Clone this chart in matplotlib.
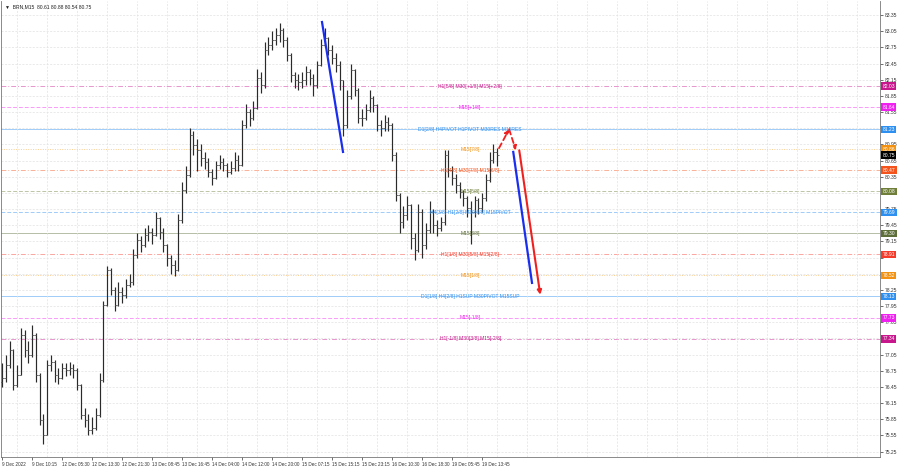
import numpy as np
import matplotlib.pyplot as plt
import matplotlib.transforms as mtransforms

plt.rcParams['font.family'] = ['Liberation Sans', 'DejaVu Sans']

# hourly-ish bars (last bar = title OHLC)
closes = [76.62, 76.86, 77.13, 76.48, 76.67, 77.41, 77.13, 77.04, 77.41, 76.67,
          75.84, 75.56, 76.86, 76.91, 76.67, 76.62, 76.80, 76.77, 76.80, 76.77,
          76.48, 75.93, 75.84, 75.65, 75.69, 75.93, 76.58, 77.97, 78.62, 78.25,
          77.97, 78.21, 78.16, 78.34, 78.40, 78.90, 79.17, 79.08, 79.27, 79.32,
          79.27, 79.58, 79.32, 79.08, 78.84, 78.71, 78.62, 79.54, 80.10, 80.38,
          81.12, 80.94, 80.85, 80.70, 80.63, 80.44, 80.33, 80.57, 80.63, 80.57,
          80.44, 80.51, 80.66, 80.57, 81.31, 81.55, 81.44, 81.62, 82.18, 82.05,
          82.70, 82.79, 82.89, 82.98, 83.07, 82.89, 82.61, 82.24, 82.14, 82.11,
          82.14, 82.29, 82.18, 82.05, 82.42, 82.79, 82.92, 82.70, 82.55, 82.42,
          82.14, 81.31, 81.85, 82.33, 81.96, 81.44, 81.44, 81.59, 81.81, 81.68,
          81.31, 81.25, 81.36, 81.31, 80.75, 80.01, 79.51, 79.64, 79.82, 79.21,
          78.99, 79.69, 79.08, 79.36, 79.69, 79.45, 79.40, 79.51, 80.75, 80.47,
          80.33, 80.19, 80.06, 79.95, 79.77, 79.69, 79.91, 79.77, 79.95, 80.29,
          80.66, 80.80, 80.75]
highs = [76.90, 77.05, 77.30, 77.15, 76.85, 77.55, 77.50, 77.30, 77.60, 77.45,
         76.70, 75.95, 76.95, 77.05, 76.95, 76.80, 76.90, 76.90, 76.92, 76.88,
         76.80, 76.50, 76.05, 75.95, 75.90, 76.05, 76.70, 78.05, 78.70, 78.65,
         78.30, 78.40, 78.30, 78.45, 78.55, 79.00, 79.30, 79.25, 79.40, 79.45,
         79.40, 79.70, 79.60, 79.40, 79.10, 78.90, 78.80, 79.65, 80.25, 80.55,
         81.25, 81.20, 81.05, 80.95, 80.80, 80.70, 80.50, 80.65, 80.75, 80.70,
         80.60, 80.65, 80.80, 80.75, 81.40, 81.70, 81.60, 81.75, 82.35, 82.30,
         82.85, 82.95, 83.05, 83.10, 83.20, 83.10, 82.95, 82.65, 82.30, 82.25,
         82.30, 82.40, 82.35, 82.25, 82.50, 82.90, 83.10, 82.95, 82.80, 82.65,
         82.50, 82.15, 81.95, 82.45, 82.35, 82.00, 81.60, 81.70, 81.95, 81.85,
         81.70, 81.40, 81.50, 81.45, 81.35, 80.80, 80.05, 79.80, 80.00, 79.85,
         79.30, 79.85, 79.75, 79.50, 79.90, 79.75, 79.55, 79.60, 80.85, 80.85,
         80.55, 80.40, 80.25, 80.10, 80.00, 79.90, 80.00, 79.95, 80.05, 80.40,
         80.80, 80.95, 80.88]
lows = [76.45, 76.55, 76.80, 76.40, 76.45, 76.70, 77.00, 76.90, 77.00, 76.55,
        75.75, 75.40, 75.60, 76.75, 76.55, 76.50, 76.60, 76.65, 76.68, 76.62,
        76.40, 75.85, 75.70, 75.55, 75.58, 75.65, 75.90, 76.55, 77.95, 78.15,
        77.85, 77.95, 78.00, 78.10, 78.30, 78.35, 78.85, 78.95, 79.05, 79.15,
        79.10, 79.25, 79.20, 78.95, 78.70, 78.55, 78.50, 78.60, 79.50, 80.05,
        80.35, 80.75, 80.45, 80.55, 80.50, 80.35, 80.20, 80.30, 80.50, 80.45,
        80.35, 80.40, 80.45, 80.45, 80.55, 81.25, 81.30, 81.40, 81.60, 81.90,
        82.00, 82.60, 82.70, 82.80, 82.85, 82.75, 82.50, 82.10, 82.00, 81.95,
        82.00, 82.05, 82.05, 81.85, 82.00, 82.40, 82.75, 82.60, 82.45, 82.30,
        81.95, 81.10, 81.25, 81.80, 81.85, 81.35, 81.30, 81.40, 81.55, 81.55,
        81.20, 81.10, 81.20, 81.20, 80.65, 79.90, 79.30, 79.40, 79.55, 79.00,
        78.80, 78.95, 78.85, 79.00, 79.30, 79.30, 79.25, 79.35, 79.45, 80.35,
        80.20, 80.05, 79.95, 79.80, 79.60, 79.10, 79.60, 79.65, 79.70, 79.90,
        80.25, 80.60, 80.54]
first_open = 76.55

# murrey-style levels: price, label, text/box colour, line style
level_prices = [82.03, 81.64, 81.23, 80.86, 80.47, 80.08, 79.69, 79.30, 78.91, 78.52, 78.13, 77.73, 77.34]
level_labels = ["H1[5/8] M30[+1/8] M15[+2/8]", "M15[+1/8]",
                "D1[2/8] H4PIVOT H1PIVOT M30RES M15RES", "M15[7/8]",
                "H1[4/8] M30[7/8] M15[6/8]", "M15[5/8]",
                "H4[3/8] H1[2/8] M30[6/8] M15PIVOT", "M15[3/8]",
                "H1[1/8] M30[5/8] M15[2/8]", "M15[1/8]",
                "D1[1/8] H4[2/8] H1SUP M30PIVOT M15SUP", "M15[-1/8]",
                "H1[-1/8] M30[3/8] M15[-2/8]"]
level_colors = ["#c8178c", "#f020f0", "#2d8ff0", "#f39212", "#f5531c", "#6f7f3a", "#2d8ff0",
                "#5f6f3a", "#f53a2a", "#f39212", "#2d8ff0", "#f020f0", "#c8178c"]
level_styles = [(0, (5, 2, 1, 2)), (0, (4, 2)), "-", (0, (1, 1.5)), (0, (5, 2, 1, 2)), (0, (4, 2)),
                (0, (4, 2)), "-", (0, (5, 2, 1, 2)), (0, (1, 1.5)), "-", (0, (4, 2)), (0, (5, 2, 1, 2))]
bid_price = 80.75

x_labels = ["9 Dec 2022", "9 Dec 10:15", "12 Dec 05:30", "12 Dec 13:30", "12 Dec 21:30",
            "13 Dec 08:45", "13 Dec 16:45", "14 Dec 04:00", "14 Dec 12:00", "14 Dec 20:00",
            "15 Dec 07:15", "15 Dec 15:15", "15 Dec 23:15", "16 Dec 10:30", "16 Dec 18:30",
            "19 Dec 05:45", "19 Dec 13:45"]
y_ticks = [83.35, 83.05, 82.75, 82.45, 82.15, 81.85, 81.55, 81.25, 80.95, 80.65, 80.35, 80.05,
           79.75, 79.45, 79.15, 78.85, 78.55, 78.25, 77.95, 77.65, 77.35, 77.05, 76.75, 76.45,
           76.15, 75.85, 75.55, 75.25]
# price scale labels that sit fully under a level box in the reference
y_hidden = [81.25, 80.05, 78.85, 78.55, 77.35]

fig = plt.figure(figsize=(9, 4.68), dpi=100)
ax = fig.add_axes([1 / 900, 11 / 468, 879 / 900, 456 / 468])

n = len(closes)
xs = np.arange(n)
opens = [first_open] + closes[:-1]
hi = np.maximum(np.maximum(highs, opens), closes)
lo = np.minimum(np.minimum(lows, opens), closes)
ax.vlines(xs, lo, hi, color="#2a2a2a", lw=0.85, zorder=3)
ax.hlines(opens, xs - 0.5, xs, color="#5a5a5a", lw=0.6, zorder=3)
ax.hlines(closes, xs, xs + 0.5, color="#5a5a5a", lw=0.6, zorder=3)

ax.set_xlim(-0.3, 234.1)
ax.set_ylim(75.15, 83.61)

# ticks and grid
ax.set_yticks(y_ticks)
ax.set_yticklabels(["" if v in y_hidden else "%.2f" % v for v in y_ticks])
ax.yaxis.tick_right()
ax.set_xticks(np.arange(len(x_labels)) * 8)
ax.set_xticklabels(x_labels, ha="left")
ax.set_xticks(np.arange(4, 235, 8), minor=True)
ax.tick_params(axis="y", labelsize=3.6, length=2, width=0.5, colors="#333333", pad=1.5)
ax.tick_params(axis="x", labelsize=3.3, length=2, width=0.5, colors="#333333", pad=1.5)
ax.tick_params(axis="x", which="minor", length=0)
ax.grid(True, axis="y", color="#e2e2e2", lw=0.5, ls=(0, (3, 2)))
ax.grid(True, axis="x", which="minor", color="#e2e2e2", lw=0.5, ls=(0, (3, 2)))
ax.spines["top"].set_visible(False)
for s in ["left", "right", "bottom"]:
    ax.spines[s].set_color("#777777")
    ax.spines[s].set_linewidth(0.6)

trans = mtransforms.blended_transform_factory(ax.transAxes, ax.transData)
for p, lab, c, ls in zip(level_prices, level_labels, level_colors, level_styles):
    ax.axhline(p, color=c, lw=0.7, ls=ls, alpha=0.45, zorder=1)
    ax.text(124.8, p, lab, color=c, fontsize=3.6, ha="center", va="center", zorder=4)
    ax.text(1.003, p, "%.2f" % p, transform=trans, color="white", fontsize=3.6,
            ha="left", va="center", clip_on=False,
            bbox=dict(boxstyle="square,pad=0.25", fc=c, ec="none"), zorder=5)
ax.text(1.003, bid_price, "%.2f" % bid_price, transform=trans, color="white", fontsize=3.6,
        ha="left", va="center", clip_on=False,
        bbox=dict(boxstyle="square,pad=0.25", fc="black", ec="none"), zorder=6)

# drawn forecast lines
ax.plot([85.3, 90.9], [83.22, 80.81], color="#1a2ef0", lw=1.6, zorder=4)
ax.plot([136.3, 141.3], [80.81, 78.38], color="#1a2ef0", lw=1.6, zorder=4)
ax.annotate("", xy=(135.2, 81.23), xytext=(132.5, 80.88),
            arrowprops=dict(arrowstyle="-|>", color="#f02020", lw=1.3, ls=(0, (3, 2)),
                            mutation_scale=6, shrinkA=0, shrinkB=0))
ax.annotate("", xy=(137.0, 80.84), xytext=(135.2, 81.23),
            arrowprops=dict(arrowstyle="-|>", color="#f02020", lw=1.3, ls=(0, (3, 2)),
                            mutation_scale=6, shrinkA=0, shrinkB=0))
ax.annotate("", xy=(143.5, 78.16), xytext=(137.9, 80.84),
            arrowprops=dict(arrowstyle="-|>", color="#f02020", lw=1.5,
                            mutation_scale=6, shrinkA=0, shrinkB=0))

ax.text(0.004, 0.992, "\u25bc  BRN,M15  80.61 80.88 80.54 80.75", transform=ax.transAxes,
        fontsize=3.6, color="#222222", ha="left", va="top")

fig.savefig("out.png", dpi=100)
